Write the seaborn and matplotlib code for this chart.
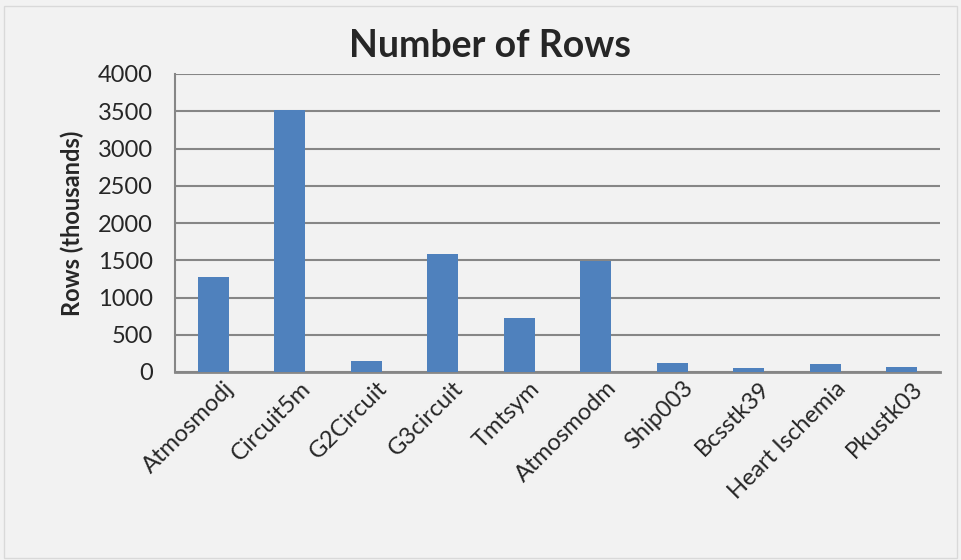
import matplotlib
matplotlib.use("Agg")
import matplotlib.pyplot as plt
import matplotlib.transforms as mtransforms
import seaborn as sns
import pandas as pd
from matplotlib.patches import Rectangle

# -----------------------------------
# Data
# -----------------------------------

matrices = ["Atmosmodj", "Circuit5m", "G2Circuit", "G3circuit", "Tmtsym",
            "Atmosmodm", "Ship003", "Bcsstk39", "Heart Ischemia", "Pkustk03"]
rows_thousands = [1270, 3523, 150, 1585, 727, 1489, 122, 47, 105, 64]
y_ticks = [0, 500, 1000, 1500, 2000, 2500, 3000, 3500, 4000]

df = pd.DataFrame({"Matrix": matrices, "Rows": rows_thousands})

# -----------------------------------
# Style
# -----------------------------------

sns.set_style("white")
plt.rcParams["font.family"] = ["Lato", "DejaVu Sans"]

bg = "#f2f2f2"
fig = plt.figure(figsize=(9.61, 5.60), dpi=100, facecolor=bg)
fig.patches.append(Rectangle((0.004, 0.004), 0.992, 0.985, transform=fig.transFigure,
                             fill=False, edgecolor="#d9d9d9", linewidth=1.0))
ax = fig.add_axes([175 / 961, 1 - 372 / 560, 765 / 961, 298 / 560])
ax.set_facecolor(bg)

sns.barplot(data=df, x="Matrix", y="Rows", color="#4f81bd", saturation=1,
            width=0.4, linewidth=0, ax=ax, zorder=3)

ax.set_ylim(0, 4000)
ax.set_yticks(y_ticks)
ax.set_yticklabels([str(t) for t in y_ticks], fontsize=17)
ax.yaxis.grid(True, color="#868686", linewidth=1.5, zorder=0)
ax.set_axisbelow(True)

for s in ["top", "right"]:
    ax.spines[s].set_visible(False)
ax.spines["left"].set_color("#868686")
ax.spines["left"].set_linewidth(1.5)
ax.spines["bottom"].set_color("#868686")
ax.spines["bottom"].set_linewidth(2)

ax.tick_params(axis="y", length=0, pad=16)
ax.tick_params(axis="x", length=0, pad=4)
shift = mtransforms.ScaledTranslation(10 / 100, 0, fig.dpi_scale_trans)
for lbl in ax.get_xticklabels():
    lbl.set_rotation(45)
    lbl.set_ha("right")
    lbl.set_rotation_mode("anchor")
    lbl.set_fontsize(17)
    lbl.set_transform(lbl.get_transform() + shift)

ax.set_xlabel("")
ax.set_ylabel("Rows (thousands)", fontsize=17, fontweight="bold", labelpad=10)

fig.text(0.51, 0.918, "Number of Rows", ha="center", va="center",
         fontsize=27, fontweight="bold")

fig.savefig("out.png", dpi=100, facecolor=bg)
plt.close()
